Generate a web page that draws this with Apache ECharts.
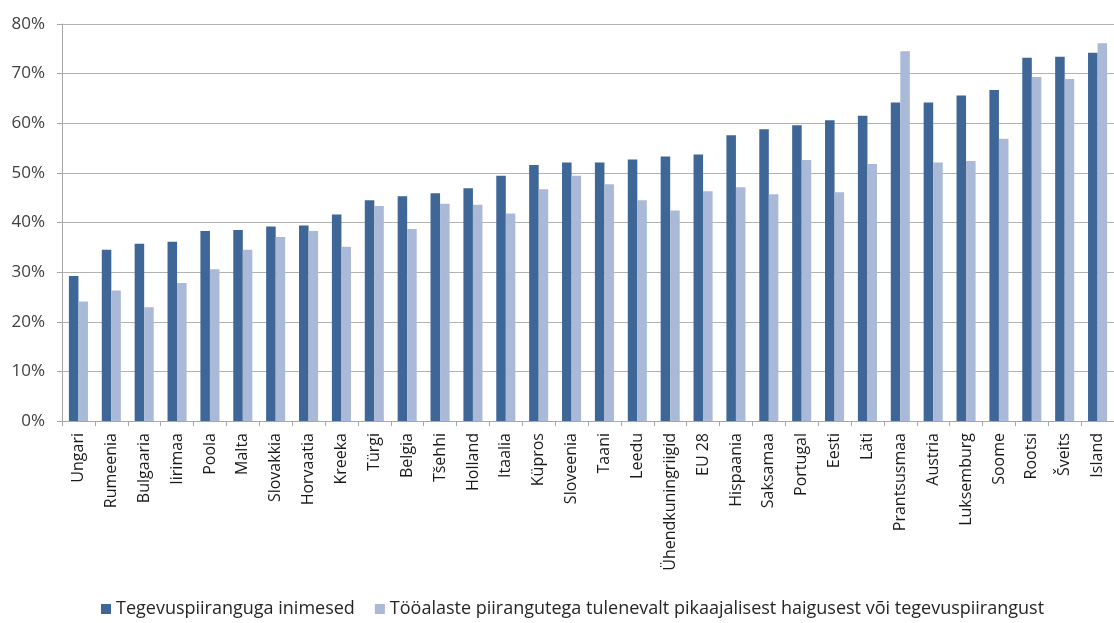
<!DOCTYPE html>
<html>
<head>
<meta charset="utf-8">
<script src="https://cdn.jsdelivr.net/npm/echarts@6/dist/echarts.min.js"></script>
<style>
  html, body { margin: 0; padding: 0; background: #fff; }
  #chart { width: 1114px; height: 623px; }
</style>
</head>
<body>
<div id="chart"></div>
<script>
const countries = ['Ungari', 'Rumeenia', 'Bulgaaria', 'Iirimaa', 'Poola', 'Malta', 'Slovakkia', 'Horvaatia',
  'Kreeka', 'Türgi', 'Belgia', 'Tšehhi', 'Holland', 'Itaalia', 'Küpros', 'Sloveenia', 'Taani', 'Leedu',
  'Ühendkuningriigid', 'EU 28', 'Hispaania', 'Saksamaa', 'Portugal', 'Eesti', 'Läti', 'Prantsusmaa',
  'Austria', 'Luksemburg', 'Soome', 'Rootsi', 'Šveits', 'Island']

// Tegevuspiiranguga inimesed (%)
const activityLimited = [29.2, 34.5, 35.7, 36.1, 38.3, 38.5, 39.2, 39.4, 41.6, 44.5, 45.3, 45.9, 46.9, 49.4,
  51.6, 52.1, 52.1, 52.7, 53.3, 53.7, 57.6, 58.8, 59.6, 60.6, 61.5, 64.2, 64.2, 65.6, 66.7, 73.2, 73.4, 74.2]

// Tööalaste piirangutega ... (%)
const workLimited = [24.1, 26.3, 22.9, 27.8, 30.6, 34.5, 37.1, 38.3, 35.1, 43.3, 38.7, 43.8, 43.6, 41.8,
  46.7, 49.4, 47.7, 44.5, 42.4, 46.3, 47.1, 45.7, 52.6, 46.1, 51.8, 74.5, 52.1, 52.4, 56.9, 69.3, 68.9, 76.1]

const seriesNames = ['Tegevuspiiranguga inimesed',
  'Tööalaste piirangutega tulenevalt pikaajalisest haigusest või tegevuspiirangust']

const chart = echarts.init(document.getElementById('chart'))

const option = {
  animation: false,
  textStyle: { fontFamily: 'Open Sans' },
  grid: {
    left: 62,
    top: 24,
    right: -10,
    bottom: 202
  },
  legend: {
    left: 96,
    bottom: 0,
    itemWidth: 10,
    itemHeight: 10,
    itemGap: 20,
    icon: 'rect',
    textStyle: { fontSize: 18, color: '#262626', fontFamily: 'Open Sans' },
    data: seriesNames
  },
  xAxis: {
    type: 'category',
    data: countries,
    axisLine: { lineStyle: { color: '#a6a6a6', width: 1 } },
    axisTick: { show: true, length: 5, lineStyle: { color: '#a6a6a6' } },
    axisLabel: {
      interval: 0,
      rotate: 90,
      margin: 12,
      fontSize: 16,
      color: '#1a1a1a',
      fontFamily: 'Open Sans'
    }
  },
  yAxis: {
    type: 'value',
    min: 0,
    max: 80,
    interval: 10,
    axisLine: { show: true, lineStyle: { color: '#a6a6a6' } },
    axisTick: { show: true, length: 5, lineStyle: { color: '#a6a6a6' } },
    splitLine: { lineStyle: { color: '#b3b3b3', width: 1 } },
    axisLabel: {
      formatter: '{value}%',
      fontSize: 17,
      color: '#404040',
      margin: 17,
      fontFamily: 'Open Sans'
    }
  },
  series: [
    {
      name: seriesNames[0],
      type: 'bar',
      data: activityLimited,
      barGap: '0%',
      barCategoryGap: '42%',
      itemStyle: { color: '#3e6797' }
    },
    {
      name: seriesNames[1],
      type: 'bar',
      data: workLimited,
      itemStyle: { color: '#aab9d7' }
    }
  ]
}

chart.setOption(option)
</script>
</body>
</html>
